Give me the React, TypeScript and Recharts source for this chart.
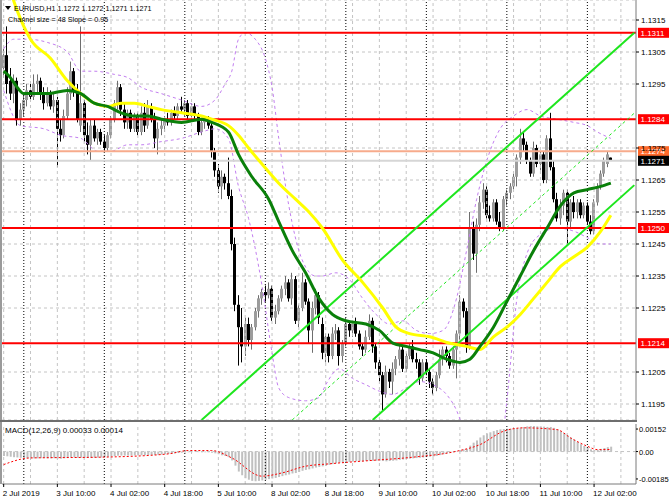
import React from 'react';
import { ComposedChart, Bar, Line, XAxis, YAxis, ReferenceLine, CartesianGrid } from 'recharts';

const FONT = '"Liberation Sans", Arial, sans-serif';

// EURUSD H1, 2 Jul 18:00 .. 12 Jul 07:00
const opens = [
  1.1300, 1.1304, 1.1296, 1.1292, 1.1296, 1.1284, 1.1287, 1.1290, 1.1293, 1.1291, 1.1295, 1.1296,
  1.1292, 1.1289, 1.1292, 1.1288, 1.1290, 1.1281, 1.1279, 1.1285, 1.1292, 1.1299, 1.1293, 1.1282,
  1.1289, 1.1279, 1.1276, 1.1282, 1.1278, 1.1280, 1.1277, 1.1275, 1.1279, 1.1284, 1.1289, 1.1294,
  1.1287, 1.1283, 1.1286, 1.1281, 1.1285, 1.1280, 1.1286, 1.1282, 1.1288, 1.1284, 1.1278, 1.1281,
  1.1282, 1.1284, 1.1283, 1.1286, 1.1285, 1.1288, 1.1287, 1.1289, 1.1285, 1.1288, 1.1285, 1.1280,
  1.1283, 1.1284, 1.1282, 1.1274, 1.1268, 1.1263, 1.1266, 1.1264, 1.1260, 1.1245, 1.1226, 1.1219,
  1.1213, 1.1220, 1.1215, 1.1219, 1.1224, 1.1228, 1.1230, 1.1229, 1.1231, 1.1222, 1.1224, 1.1228,
  1.1231, 1.1233, 1.1228, 1.1234, 1.1221, 1.1225, 1.1233, 1.1227, 1.1218, 1.1225, 1.1229, 1.1220,
  1.1211, 1.1216, 1.1210, 1.1217, 1.1218, 1.1210, 1.1214, 1.1220, 1.1218, 1.1220, 1.1217, 1.1213,
  1.1212, 1.1216, 1.1221, 1.1213, 1.1208, 1.1204, 1.1198, 1.1205, 1.1202, 1.1206, 1.1209, 1.1212,
  1.1206, 1.1210, 1.1213, 1.1209, 1.1208, 1.1203, 1.1208, 1.1205, 1.1202, 1.1200, 1.1204, 1.1209,
  1.1212, 1.1210, 1.1207, 1.1212, 1.1217, 1.1227, 1.1224, 1.1213, 1.1250, 1.1242, 1.1251, 1.1258,
  1.1262, 1.1254, 1.1253, 1.1258, 1.1252, 1.1250, 1.1259, 1.1261, 1.1263, 1.1266, 1.1272, 1.1278,
  1.1276, 1.1271, 1.1267, 1.1275, 1.1270, 1.1273, 1.1265, 1.1278, 1.1269, 1.1259, 1.1253, 1.1257,
  1.1261, 1.1252, 1.1258, 1.1255, 1.1258, 1.1254, 1.1257, 1.1252, 1.1249, 1.1258, 1.1263, 1.1267,
  1.1270, 1.1272,
];
const highs = [
  1.1306, 1.1313, 1.1300, 1.1298, 1.1297, 1.1289, 1.1292, 1.1295, 1.1295, 1.1298, 1.1298, 1.1297,
  1.1294, 1.1294, 1.1293, 1.1292, 1.1291, 1.1284, 1.1287, 1.1294, 1.1302, 1.1300, 1.1295, 1.1313,
  1.1290, 1.1283, 1.1284, 1.1284, 1.1281, 1.1281, 1.1279, 1.1280, 1.1285, 1.1290, 1.1296, 1.1295,
  1.1289, 1.1287, 1.1287, 1.1286, 1.1286, 1.1288, 1.1289, 1.1290, 1.1289, 1.1286, 1.1283, 1.1284,
  1.1285, 1.1286, 1.1287, 1.1288, 1.1289, 1.1291, 1.1290, 1.1290, 1.1289, 1.1289, 1.1286, 1.1284,
  1.1285, 1.1285, 1.1283, 1.1275, 1.1270, 1.1268, 1.1267, 1.1272, 1.1262, 1.1247, 1.1229, 1.1225,
  1.1222, 1.1222, 1.1220, 1.1225, 1.1229, 1.1231, 1.1232, 1.1233, 1.1232, 1.1226, 1.1229, 1.1232,
  1.1235, 1.1234, 1.1236, 1.1235, 1.1226, 1.1236, 1.1234, 1.1228, 1.1227, 1.1231, 1.1230, 1.1222,
  1.1217, 1.1217, 1.1219, 1.1220, 1.1219, 1.1215, 1.1222, 1.1221, 1.1221, 1.1222, 1.1218, 1.1214,
  1.1218, 1.1223, 1.1222, 1.1214, 1.1209, 1.1205, 1.1207, 1.1206, 1.1208, 1.1210, 1.1214, 1.1213,
  1.1211, 1.1214, 1.1215, 1.1211, 1.1209, 1.1209, 1.1209, 1.1206, 1.1203, 1.1205, 1.1212, 1.1213,
  1.1213, 1.1211, 1.1213, 1.1218, 1.1229, 1.1228, 1.1225, 1.1255, 1.1252, 1.1253, 1.1260, 1.1264,
  1.1263, 1.1257, 1.1259, 1.1259, 1.1255, 1.1260, 1.1262, 1.1264, 1.1267, 1.1273, 1.1281, 1.1280,
  1.1277, 1.1272, 1.1277, 1.1276, 1.1274, 1.1274, 1.1279, 1.1286, 1.1271, 1.1261, 1.1259, 1.1262,
  1.1262, 1.1259, 1.1260, 1.1259, 1.1259, 1.1258, 1.1258, 1.1254, 1.1259, 1.1264, 1.1268, 1.1272,
  1.1274, 1.1272,
];
const lows = [
  1.1297, 1.1292, 1.1290, 1.1289, 1.1282, 1.1282, 1.1285, 1.1288, 1.1290, 1.1290, 1.1292, 1.1290,
  1.1287, 1.1288, 1.1287, 1.1286, 1.1269, 1.1277, 1.1278, 1.1284, 1.1290, 1.1291, 1.1283, 1.1280,
  1.1277, 1.1273, 1.1271, 1.1277, 1.1276, 1.1276, 1.1274, 1.1274, 1.1278, 1.1283, 1.1287, 1.1285,
  1.1281, 1.1281, 1.1280, 1.1280, 1.1279, 1.1279, 1.1280, 1.1281, 1.1283, 1.1275, 1.1273, 1.1279,
  1.1280, 1.1282, 1.1282, 1.1284, 1.1284, 1.1286, 1.1285, 1.1284, 1.1284, 1.1284, 1.1279, 1.1279,
  1.1281, 1.1281, 1.1272, 1.1266, 1.1261, 1.1259, 1.1262, 1.1259, 1.1243, 1.1224, 1.1207, 1.1208,
  1.1210, 1.1213, 1.1212, 1.1218, 1.1222, 1.1226, 1.1227, 1.1228, 1.1221, 1.1220, 1.1223, 1.1227,
  1.1229, 1.1227, 1.1226, 1.1220, 1.1219, 1.1224, 1.1226, 1.1214, 1.1211, 1.1223, 1.1220, 1.1209,
  1.1208, 1.1208, 1.1209, 1.1215, 1.1207, 1.1208, 1.1213, 1.1216, 1.1216, 1.1216, 1.1212, 1.1210,
  1.1211, 1.1215, 1.1211, 1.1206, 1.1202, 1.1193, 1.1197, 1.1200, 1.1198, 1.1204, 1.1207, 1.1205,
  1.1205, 1.1209, 1.1208, 1.1206, 1.1201, 1.1202, 1.1204, 1.1200, 1.1198, 1.1199, 1.1203, 1.1207,
  1.1208, 1.1206, 1.1206, 1.1203, 1.1215, 1.1222, 1.1211, 1.1212, 1.1240, 1.1236, 1.1249, 1.1256,
  1.1253, 1.1252, 1.1252, 1.1251, 1.1249, 1.1249, 1.1257, 1.1259, 1.1262, 1.1263, 1.1270, 1.1274,
  1.1270, 1.1266, 1.1266, 1.1269, 1.1268, 1.1264, 1.1264, 1.1268, 1.1258, 1.1252, 1.1251, 1.1254,
  1.1245, 1.1250, 1.1253, 1.1253, 1.1253, 1.1253, 1.1251, 1.1248, 1.1248, 1.1257, 1.1262, 1.1266,
  1.1269, 1.1271,
];
const closes = [
  1.1304, 1.1295, 1.1292, 1.1296, 1.1284, 1.1287, 1.1290, 1.1293, 1.1291, 1.1295, 1.1296, 1.1292,
  1.1289, 1.1292, 1.1288, 1.1290, 1.1281, 1.1279, 1.1285, 1.1292, 1.1299, 1.1293, 1.1284, 1.1289,
  1.1279, 1.1276, 1.1282, 1.1278, 1.1280, 1.1277, 1.1275, 1.1279, 1.1284, 1.1289, 1.1294, 1.1287,
  1.1283, 1.1286, 1.1281, 1.1285, 1.1280, 1.1286, 1.1282, 1.1288, 1.1284, 1.1278, 1.1281, 1.1282,
  1.1284, 1.1283, 1.1286, 1.1285, 1.1288, 1.1287, 1.1289, 1.1285, 1.1288, 1.1285, 1.1280, 1.1283,
  1.1284, 1.1282, 1.1274, 1.1268, 1.1263, 1.1266, 1.1264, 1.1260, 1.1245, 1.1226, 1.1219, 1.1213,
  1.1220, 1.1215, 1.1219, 1.1224, 1.1228, 1.1230, 1.1229, 1.1231, 1.1222, 1.1224, 1.1228, 1.1231,
  1.1233, 1.1228, 1.1234, 1.1221, 1.1225, 1.1233, 1.1227, 1.1218, 1.1225, 1.1229, 1.1222, 1.1211,
  1.1216, 1.1210, 1.1217, 1.1218, 1.1210, 1.1214, 1.1220, 1.1218, 1.1220, 1.1217, 1.1213, 1.1212,
  1.1216, 1.1221, 1.1213, 1.1208, 1.1204, 1.1198, 1.1205, 1.1202, 1.1206, 1.1209, 1.1212, 1.1206,
  1.1210, 1.1213, 1.1209, 1.1208, 1.1203, 1.1208, 1.1205, 1.1202, 1.1200, 1.1204, 1.1209, 1.1212,
  1.1210, 1.1207, 1.1212, 1.1217, 1.1227, 1.1224, 1.1213, 1.1250, 1.1242, 1.1251, 1.1258, 1.1262,
  1.1254, 1.1253, 1.1258, 1.1252, 1.1250, 1.1259, 1.1261, 1.1263, 1.1266, 1.1272, 1.1278, 1.1276,
  1.1271, 1.1267, 1.1275, 1.1270, 1.1273, 1.1265, 1.1278, 1.1269, 1.1259, 1.1253, 1.1257, 1.1261,
  1.1252, 1.1258, 1.1255, 1.1258, 1.1254, 1.1257, 1.1252, 1.1249, 1.1258, 1.1263, 1.1267, 1.1271,
  1.1273, 1.1271,
];

// MACD main (histogram), one per bar
const macdHist = [
  -0.0003, -0.00032, -0.00035, -0.00038, -0.0004, -0.00042, -0.00044, -0.00045, -0.00046, -0.00046,
  -0.00046, -0.00045, -0.00045, -0.00046, -0.00046, -0.00045, -0.00047, -0.00048, -0.00046, -0.00043,
  -0.0004, -0.0004, -0.00042, -0.00041, -0.00042, -0.00043, -0.00043, -0.00042, -0.00041, -0.0004,
  -0.00038, -0.00036, -0.00034, -0.00031, -0.00028, -0.00027, -0.00027, -0.00027, -0.00027, -0.00026,
  -0.00026, -0.00025, -0.00025, -0.00024, -0.00023, -0.00023, -0.00022, -0.0002, -0.00018, -0.00016,
  -0.00014, -0.00012, -0.0001, -0.00008, -0.00006, -0.00005, -0.00004, -0.00003, -0.00004, -0.00005,
  -0.00005, -0.00005, -0.00008, -0.00012, -0.00018, -0.00025, -0.0003, -0.00038, -0.0006, -0.00095,
  -0.00135, -0.0016, -0.0018, -0.0019, -0.00198, -0.002, -0.00198, -0.00195, -0.0019, -0.00186,
  -0.00182, -0.00178, -0.00172, -0.00166, -0.0016, -0.00155, -0.00148, -0.00145, -0.00138, -0.0013,
  -0.00124, -0.0012, -0.00114, -0.00108, -0.00104, -0.001, -0.00096, -0.0009, -0.00085, -0.0008,
  -0.00076, -0.00074, -0.00072, -0.0007, -0.00068, -0.00066, -0.00066, -0.00066, -0.00064, -0.00062,
  -0.00062, -0.00062, -0.00062, -0.00064, -0.00066, -0.00064, -0.00062, -0.0006, -0.00056, -0.00054,
  -0.0005, -0.00048, -0.00046, -0.00044, -0.00042, -0.0004, -0.00037, -0.00035, -0.00034, -0.0003,
  -0.00024, -0.00018, -0.00012, -0.00008, -0.00004, 0.00002, 0.0001, 0.00015, 0.00018, 0.0004,
  0.0006, 0.00075, 0.00095, 0.0011, 0.00122, 0.0013, 0.00138, 0.00145, 0.0015, 0.00152,
  0.00154, 0.00155, 0.00156, 0.00158, 0.00162, 0.00166, 0.0017, 0.00172, 0.00172, 0.0017,
  0.0017, 0.00168, 0.00166, 0.00166, 0.0016, 0.0015, 0.00138, 0.00125, 0.0011, 0.00095,
  0.0008, 0.00065, 0.0005, 0.00038, 0.00025, 0.00015, 0.0001, 0.00012, 0.00018, 0.00024,
  0.0003, 0.00033,
];

// [bar, value] points
const macdSignal = [
  [0, -0.00088], [8, -0.00043], [29, -0.00038], [49, -0.00016], [55, 0.00007], [62, 0.00007],
  [68, -0.00043], [77, -0.00166], [83, -0.00144], [90, -0.00099], [97, -0.00083], [109, -0.00061],
  [122, -0.00038], [135, 0.00002], [142, 0.00047], [149, 0.00137], [155, 0.0016], [165, 0.00148],
  [169, 0.00092], [174, 0.00036], [177, 0.00013], [181, 0.00014],
];
const maGreen = [
  [0, 1.1299], [2, 1.1297], [4, 1.1294], [6, 1.1292], [9, 1.1292], [13, 1.1292], [19, 1.1293],
  [23, 1.1292], [27, 1.1289], [31, 1.1288], [35, 1.1286], [39, 1.1285], [43, 1.1285], [47, 1.1284],
  [53, 1.1283], [59, 1.1284], [62, 1.1283], [67, 1.128], [70, 1.1273], [74, 1.1266], [79, 1.1259],
  [82, 1.1252], [86, 1.1243], [90, 1.1236], [94, 1.1228], [98, 1.1223], [102, 1.1221], [108, 1.122],
  [112, 1.1218], [116, 1.1214], [120, 1.1213], [124, 1.1212], [128, 1.1211], [132, 1.1209],
  [136, 1.1208], [139, 1.1209], [142, 1.1213], [146, 1.1219], [150, 1.1227], [154, 1.1235],
  [158, 1.1243], [162, 1.125], [166, 1.1257], [170, 1.1261], [174, 1.1262], [178, 1.1263], [181, 1.1264],
];
const maYellow = [
  [0, 1.1331], [4, 1.1318], [8, 1.1309], [14, 1.1303], [19, 1.1296], [23, 1.1292], [27, 1.1289],
  [31, 1.1288], [35, 1.1289], [39, 1.1289], [43, 1.1288], [47, 1.1287], [53, 1.1286], [59, 1.1285],
  [62, 1.1284], [67, 1.1282], [70, 1.1279], [73, 1.1275], [77, 1.127], [82, 1.1264], [87, 1.1259],
  [91, 1.1255], [95, 1.125], [101, 1.124], [107, 1.1233], [113, 1.1225], [117, 1.1219], [121, 1.1217],
  [127, 1.1216], [133, 1.1214], [138, 1.1213], [142, 1.1212], [146, 1.1216], [150, 1.1219],
  [154, 1.1223], [158, 1.1228], [162, 1.1233], [166, 1.1238], [170, 1.1241], [174, 1.1244],
  [178, 1.1249], [181, 1.1254],
];
const bandUpper = [
  [0, 1.1306], [3, 1.1309], [7, 1.1309], [13, 1.1308], [19, 1.1305], [23, 1.1299], [27, 1.1299],
  [33, 1.1298], [37, 1.1297], [41, 1.1294], [47, 1.1292], [53, 1.129], [59, 1.1288], [63, 1.129],
  [66, 1.1295], [68, 1.1299], [70, 1.1309], [72, 1.1311], [75, 1.1309], [78, 1.1303], [80, 1.1294],
  [82, 1.1278], [85, 1.1257], [89, 1.124], [93, 1.1235], [95, 1.1235], [99, 1.1236], [103, 1.1234],
  [107, 1.1228], [111, 1.1223], [115, 1.122], [119, 1.1221], [123, 1.1218], [127, 1.1217],
  [131, 1.1218], [135, 1.1228], [138, 1.1243], [141, 1.1259], [144, 1.1271], [148, 1.1281],
  [152, 1.1285], [156, 1.1287], [160, 1.1285], [165, 1.1284], [170, 1.1283], [174, 1.1282],
  [177, 1.128], [181, 1.1278],
];
const bandLower = [
  [0, 1.1293], [5, 1.1282], [12, 1.1281], [17, 1.1279], [23, 1.1278], [28, 1.1274], [32, 1.1274],
  [37, 1.1276], [41, 1.1276], [47, 1.1277], [53, 1.1278], [59, 1.128], [63, 1.1281], [67, 1.1278],
  [70, 1.1263], [73, 1.1253], [77, 1.1232], [80, 1.1211], [82, 1.12], [85, 1.1197], [90, 1.1196],
  [94, 1.1197], [96, 1.1201], [100, 1.1206], [104, 1.1203], [108, 1.1201], [112, 1.1199],
  [116, 1.1198], [120, 1.12], [124, 1.1202], [128, 1.1201], [132, 1.1198], [135, 1.1193],
  [138, 1.1184], [142, 1.1171], [146, 1.1165], [150, 1.1196], [153, 1.1228], [156, 1.1242],
  [160, 1.1248], [165, 1.125], [170, 1.1249], [174, 1.1247], [178, 1.1245], [181, 1.1245],
];
// regression channel (two anchor points each)
const channelTop = [[59, 1.119], [188, 1.1311]];
const channelMid = [[86, 1.119], [188, 1.12859]];
const channelBottom = [[110, 1.119], [188, 1.12634]];

const levels = [1.1311, 1.1284, 1.125, 1.1214];
const priceTicks = [1.1315, 1.1305, 1.1295, 1.1275, 1.1265, 1.1255, 1.1245, 1.1235, 1.1225, 1.1205, 1.1195];
const macdTicks = [0.00152, 0, -0.00185];
const timeLabels = [
  '2 Jul 2019', '3 Jul 10:00', '4 Jul 02:00', '4 Jul 18:00', '5 Jul 10:00', '8 Jul 02:00',
  '8 Jul 18:00', '9 Jul 10:00', '10 Jul 02:00', '10 Jul 18:00', '11 Jul 10:00', '12 Jul 02:00',
];
const timeLabelBars = [0, 16, 32, 48, 64, 80, 96, 112, 128, 144, 160, 176];
const daySeparators = [6, 30, 54, 78, 102, 126, 150, 174];
const gridBars = [0, 8, 16, 24, 32, 40, 48, 56, 64, 72, 80, 88, 96, 104, 112, 120, 128, 136, 144, 152, 160, 168, 176, 184];
const SLOTS = 189;

const pick = (pts: number[][]) => new Map(pts.map(([i, v]) => [i, v]));
const gMap = pick(maGreen);
const yMap = pick(maYellow);
const uMap = pick(bandUpper);
const lMap = pick(bandLower);
const sMap = pick(macdSignal);
const ctMap = pick(channelTop);
const cmMap = pick(channelMid);
const cbMap = pick(channelBottom);

const rows = Array.from({ length: SLOTS }, (_, i) => ({
  i,
  hl: i < closes.length ? [lows[i], highs[i]] : null,
  open: opens[i],
  close: closes[i],
  high: highs[i],
  low: lows[i],
  maG: gMap.get(i) ?? null,
  maY: yMap.get(i) ?? null,
  bbU: uMap.get(i) ?? null,
  bbL: lMap.get(i) ?? null,
  chT: ctMap.get(i) ?? null,
  chM: cmMap.get(i) ?? null,
  chB: cbMap.get(i) ?? null,
  macd: i < macdHist.length ? macdHist[i] : null,
  sig: sMap.get(i) ?? null,
}));

const Candle = (props: any) => {
  const { x, y, width, height, payload } = props;
  if (!payload || payload.hl == null) return null;
  const { open, close, high, low } = payload;
  const span = high - low || 1e-9;
  const toY = (v: number) => y + ((high - v) / span) * height;
  const cx = Math.round(x + width / 2 - 0.5);
  const bull = close >= open;
  const top = toY(Math.max(open, close));
  const bot = toY(Math.min(open, close));
  return (
    <g>
      <line x1={cx + 0.5} x2={cx + 0.5} y1={y} y2={y + height} stroke={bull ? '#6e6e6e' : '#000'} strokeWidth={1} />
      <rect x={cx - 1} y={top} width={3} height={Math.max(1, bot - top)} fill={bull ? '#9c9c9c' : '#000'} />
    </g>
  );
};

const PriceTick = (p: any) => (
  <g>
    <line x1={p.x} x2={p.x + 3} y1={p.y} y2={p.y} stroke="#000" />
    <text x={p.x + 5} y={p.y + 3} fontSize={8} fontFamily={FONT} fill="#000">
      {p.payload.value.toFixed(4)}
    </text>
  </g>
);

const MacdTick = (p: any) => (
  <g>
    <line x1={p.x} x2={p.x + 2} y1={p.y} y2={p.y} stroke="#000" />
    <text x={p.x + 3} y={p.y + 3} fontSize={7.5} fontFamily={FONT} fill="#000">
      {p.payload.value === 0 ? '0.00' : p.payload.value.toFixed(5)}
    </text>
  </g>
);

const TimeTick = (p: any) => {
  const k = timeLabelBars.indexOf(p.payload.value);
  return (
    <g>
      <line x1={p.x} x2={p.x} y1={p.y} y2={p.y + 3} stroke="#000" />
      <text x={p.x - 1} y={p.y + 12} fontSize={8} fontFamily={FONT} fill="#000">
        {timeLabels[k]}
      </text>
    </g>
  );
};

const tag = (text: string, bg: string) => (props: any) => {
  const vb = props.viewBox || {};
  const x = (vb.x ?? 0) + (vb.width ?? 0) + 2;
  const y = vb.y ?? 0;
  return (
    <g>
      <rect x={x} y={y - 5} width={31} height={10} fill={bg} />
      <text x={x + 2.5} y={y + 3} fontSize={8} fontFamily={FONT} fill="#fff">
        {text}
      </text>
    </g>
  );
};

const verticalGuides = () => [
  ...gridBars.map((b) => (
    <ReferenceLine key={`g${b}`} x={b} stroke="#c4c4c4" strokeDasharray="3 3" />
  )),
  ...daySeparators.map((b) => (
    <ReferenceLine key={`d${b}`} x={b} stroke="#000" strokeDasharray="1 2" />
  )),
];

export default function App() {
  return (
    <div style={{ position: 'absolute', left: 0, top: 0, width: 670, height: 502, background: '#fff', overflow: 'hidden', fontFamily: FONT }}>
      <div style={{ position: 'absolute', left: 0, top: 0 }}>
        <ComposedChart width={670} height={420} data={rows} margin={{ top: 0, right: 0, bottom: 0, left: 2 }} barCategoryGap={0}>
          <CartesianGrid vertical={false} stroke="#c4c4c4" strokeDasharray="3 3" />
          <XAxis dataKey="i" type="category" hide />
          <YAxis
            orientation="right"
            width={34}
            domain={[1.119, 1.132125]}
            allowDataOverflow
            ticks={priceTicks}
            interval={0}
            tickSize={0}
            tickMargin={0}
            tickLine={false}
            axisLine={{ stroke: '#7a7a7a' }}
            tick={<PriceTick />}
          />
          {verticalGuides()}
          <Line dataKey="bbU" type="monotone" stroke="#c27ef0" strokeDasharray="3 3" strokeWidth={1} dot={false} connectNulls isAnimationActive={false} />
          <Line dataKey="bbL" type="monotone" stroke="#c27ef0" strokeDasharray="3 3" strokeWidth={1} dot={false} connectNulls isAnimationActive={false} />
          <Bar dataKey="hl" barSize={3} shape={<Candle />} isAnimationActive={false} />
          <ReferenceLine y={1.1274} stroke="#f7ab8c" strokeWidth={2} label={tag('1.1274', '#ff6a2b')} />
          <ReferenceLine y={1.1271} stroke="#d6d6d6" strokeWidth={2} label={tag('1.1271', '#000')} />
          {levels.map((v) => (
            <ReferenceLine key={v} y={v} stroke="#ff0000" strokeWidth={2} label={tag(v.toFixed(4), '#ff0000')} />
          ))}
          <Line dataKey="chT" type="linear" stroke="#1ee61e" strokeWidth={2} dot={false} connectNulls isAnimationActive={false} />
          <Line dataKey="chB" type="linear" stroke="#1ee61e" strokeWidth={2} dot={false} connectNulls isAnimationActive={false} />
          <Line dataKey="chM" type="linear" stroke="#1ee61e" strokeDasharray="3 3" strokeWidth={1} dot={false} connectNulls isAnimationActive={false} />
          <Line dataKey="maY" type="monotone" stroke="#ffff00" strokeWidth={3} dot={false} connectNulls isAnimationActive={false} />
          <Line dataKey="maG" type="monotone" stroke="#0a800a" strokeWidth={3} dot={false} connectNulls isAnimationActive={false} />
        </ComposedChart>
      </div>
      <div style={{ position: 'absolute', left: 0, top: 420 }}>
        <ComposedChart width={670} height={82} data={rows} margin={{ top: 4, right: 0, bottom: 0, left: 2 }} barCategoryGap={0}>
          <XAxis
            dataKey="i"
            type="category"
            height={18}
            ticks={timeLabelBars}
            interval={0}
            tickSize={0}
            tickMargin={0}
            tickLine={false}
            axisLine={{ stroke: '#7a7a7a' }}
            tick={<TimeTick />}
          />
          <YAxis
            orientation="right"
            width={34}
            domain={[-0.00219, 0.00186]}
            allowDataOverflow
            ticks={macdTicks}
            interval={0}
            tickSize={0}
            tickMargin={0}
            tickLine={false}
            axisLine={{ stroke: '#7a7a7a' }}
            tick={<MacdTick />}
          />
          {verticalGuides()}
          <ReferenceLine y={0} stroke="#c4c4c4" strokeDasharray="3 3" />
          <Bar dataKey="macd" barSize={2} fill="#c0c0c0" isAnimationActive={false} />
          <Line dataKey="sig" type="monotone" stroke="#ff0000" strokeDasharray="2 2" strokeWidth={1} dot={false} connectNulls isAnimationActive={false} />
        </ComposedChart>
      </div>
      <svg width={670} height={502} style={{ position: 'absolute', left: 0, top: 0, pointerEvents: 'none' }}>
        <rect x={0} y={0} width={2} height={484} fill="#9a9a9a" />
        <rect x={0} y={420} width={637} height={2} fill="#6e6e6e" />
        <polygon points="5,6 11,6 8,10" fill="#000" />
        <text x={14} y={11} fontSize={7.2} fontFamily={FONT} fill="#000">EURUSD,H1  1.1272 1.1272 1.1271 1.1271</text>
        <text x={8} y={22} fontSize={7.2} fontFamily={FONT} fill="#000">Channel size = 48 Slope = 0.95</text>
        <text x={5} y={433} fontSize={8} fontFamily={FONT} fill="#000">MACD(12,26,9) 0.00033 0.00014</text>
      </svg>
    </div>
  );
}
